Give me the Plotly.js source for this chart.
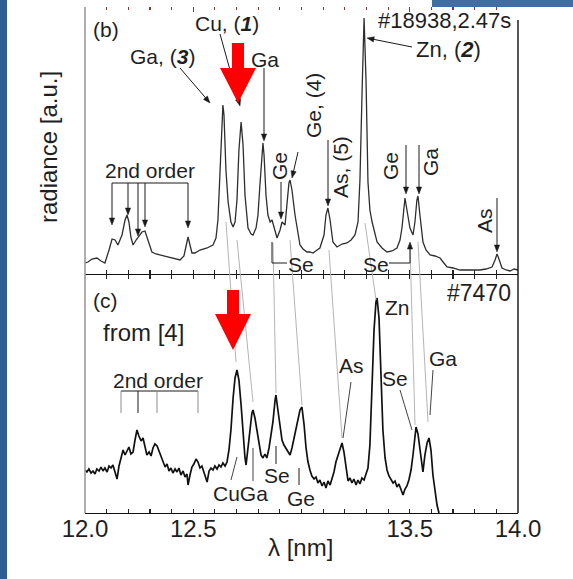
<!DOCTYPE html>
<html>
<head>
<meta charset="utf-8">
<script src="https://cdn.plot.ly/plotly-3.0.1.min.js"></script>
<style>
  html, body { margin: 0; padding: 0; background: #ffffff; }
  #chart { width: 573px; height: 579px; }
</style>
</head>
<body>
<div id="chart"></div>
<script>
// Panel (b): spectrum of discharge #18938 at 2.47 s
const lamB = [12.000,12.014,12.032,12.055,12.074,12.092,12.111,12.125,12.139,12.152,
  12.171,12.185,12.194,12.203,12.212,12.222,12.236,12.245,12.263,12.277,
  12.291,12.309,12.328,12.346,12.370,12.393,12.416,12.439,12.457,12.467,
  12.476,12.485,12.494,12.508,12.531,12.564,12.591,12.605,12.614,12.624,
  12.633,12.637,12.642,12.651,12.661,12.674,12.684,12.693,12.702,12.711,
  12.721,12.730,12.739,12.753,12.767,12.776,12.790,12.799,12.808,12.818,
  12.822,12.827,12.836,12.845,12.855,12.864,12.873,12.887,12.901,12.910,
  12.924,12.933,12.942,12.947,12.956,12.970,12.984,12.993,13.007,13.025,
  13.039,13.053,13.072,13.085,13.104,13.113,13.122,13.132,13.145,13.164,
  13.187,13.210,13.229,13.247,13.261,13.270,13.280,13.289,13.298,13.307,
  13.316,13.326,13.349,13.372,13.395,13.418,13.441,13.455,13.464,13.473,
  13.478,13.487,13.501,13.515,13.524,13.533,13.538,13.547,13.561,13.575,
  13.594,13.617,13.640,13.654,13.672,13.700,13.732,13.778,13.824,13.852,
  13.880,13.894,13.903,13.912,13.926,13.945,13.963,13.982,14.000];
const radB = [12,13,16,17,14,12,25,36,35,30,
  40,55,60,53,38,30,35,38,43,44,
  35,23,21,20,19,17,16,15,19,30,
  38,30,22,22,25,27,30,37,55,105,
  155,170,160,105,73,53,48,53,75,125,
  153,130,80,47,41,40,47,60,90,125,
  132,120,80,60,53,55,47,37,45,53,
  50,70,92,95,85,60,40,30,26,23,
  23,22,25,27,40,60,67,55,33,28,
  31,32,35,40,53,95,185,257,195,93,
  65,53,33,27,23,24,27,35,47,70,
  77,65,47,40,53,75,79,60,33,25,
  20,19,17,13,8,7,5,5,5,6,
  8,15,21,16,7,5,4,6,5];

// Panel (c): spectrum of discharge #7470 (from [4])
const lamC = [12.000,12.009,12.018,12.028,12.037,12.046,12.055,12.065,12.074,12.083,
  12.092,12.102,12.111,12.120,12.129,12.139,12.148,12.157,12.166,12.176,
  12.185,12.194,12.203,12.212,12.222,12.231,12.240,12.249,12.259,12.268,
  12.277,12.286,12.296,12.305,12.314,12.323,12.333,12.342,12.351,12.360,
  12.370,12.379,12.388,12.397,12.406,12.416,12.425,12.434,12.443,12.453,
  12.462,12.471,12.476,12.485,12.494,12.503,12.513,12.522,12.531,12.540,
  12.550,12.559,12.564,12.573,12.582,12.591,12.600,12.610,12.619,12.628,
  12.637,12.647,12.656,12.665,12.674,12.684,12.693,12.702,12.711,12.721,
  12.730,12.739,12.744,12.753,12.762,12.771,12.776,12.785,12.794,12.804,
  12.813,12.822,12.831,12.840,12.850,12.859,12.868,12.878,12.882,12.891,
  12.901,12.910,12.919,12.928,12.937,12.947,12.956,12.965,12.975,12.984,
  12.993,13.002,13.012,13.021,13.030,13.039,13.048,13.058,13.067,13.076,
  13.085,13.095,13.104,13.113,13.122,13.132,13.141,13.150,13.159,13.169,
  13.178,13.187,13.196,13.205,13.215,13.224,13.233,13.242,13.252,13.261,
  13.270,13.279,13.289,13.298,13.307,13.316,13.326,13.335,13.344,13.349,
  13.358,13.367,13.376,13.386,13.395,13.404,13.413,13.423,13.432,13.441,
  13.450,13.460,13.469,13.478,13.487,13.496,13.506,13.515,13.524,13.529,
  13.538,13.547,13.556,13.561,13.570,13.580,13.589,13.598,13.607,13.617,
  13.626,13.635];
const radC = [43,41,44,40,42,39,44,42,46,42,
  45,41,47,45,48,41,34,47,55,63,
  58,62,66,59,61,73,83,77,72,75,
  66,58,61,57,65,69,67,62,58,51,
  46,49,42,45,40,44,41,45,38,42,
  36,39,28,38,46,49,54,51,45,47,
  40,34,31,42,45,43,47,44,48,46,
  50,47,51,63,83,115,135,143,133,108,
  78,55,48,65,85,100,103,95,83,68,
  58,55,59,55,65,78,91,113,118,103,
  85,73,68,65,61,58,65,75,85,95,
  103,106,88,65,51,43,37,34,36,30,
  33,27,31,25,32,28,34,41,51,58,
  65,70,61,45,32,35,30,34,28,33,
  29,35,33,39,45,68,123,183,211,215,
  195,143,83,55,43,37,33,30,32,26,
  29,23,18,24,27,33,43,58,81,86,
  79,63,45,41,58,70,75,63,38,21,
  8,0];

// Axis ticks
const tickPos = [12.0, 12.5, 13.5, 14.0];
const tickText = ['12.0', '12.5', '13.5', '14.0'];

const FONT = 'Liberation Sans, Arial, Helvetica, sans-serif';
const INK = '#1f1f1f';

// Figure geometry (layout pixels) and helpers to paper coordinates
const PL = 85, PR = 518, PT = 7, PB = 513, MID = 275;
const fx = x => (x - PL) / (PR - PL);
const fy = y => (PB - y) / (PB - PT);
const splitC = (PB - MID) / (PB - PT);

const shapes = [];
const annotations = [];

function seg(pts, color, width, head) {
  let p = pts.map(q => q.slice());
  const n = p.length;
  let headPath = null;
  if (head) {
    const [x0, y0] = p[n - 2], [x1, y1] = p[n - 1];
    const d = Math.hypot(x1 - x0, y1 - y0), ux = (x1 - x0) / d, uy = (y1 - y0) / d;
    const len = 7, hw = 2.6;
    const bx = x1 - ux * len, by = y1 - uy * len;
    headPath = 'M' + fx(x1) + ',' + fy(y1) +
      ' L' + fx(bx - uy * hw) + ',' + fy(by + ux * hw) +
      ' L' + fx(bx + uy * hw) + ',' + fy(by - ux * hw) + ' Z';
    p[n - 1] = [bx + ux * 1, by + uy * 1];
  }
  const path = p.map((q, i) => (i ? 'L' : 'M') + fx(q[0]) + ',' + fy(q[1])).join(' ');
  shapes.push({type: 'path', xref: 'paper', yref: 'paper', path: path,
    line: {color: color, width: width}});
  if (headPath) {
    shapes.push({type: 'path', xref: 'paper', yref: 'paper', path: headPath,
      fillcolor: color, line: {color: color, width: 0.5}});
  }
}

function bigArrow(sl, sr, top, neck, hl, hr, tipX, tipY) {
  const pts = [[sl, top], [sr, top], [sr, neck], [hr, neck], [tipX, tipY], [hl, neck], [sl, neck]];
  const path = pts.map((q, i) => (i ? 'L' : 'M') + fx(q[0]) + ',' + fy(q[1])).join(' ') + ' Z';
  shapes.push({type: 'path', xref: 'paper', yref: 'paper', path: path,
    fillcolor: '#ff0000', line: {width: 0}});
}

function label(text, x, y, size, angle, xanchor) {
  annotations.push({text: text, xref: 'paper', yref: 'paper', x: fx(x), y: fy(y),
    xanchor: xanchor || 'center', yanchor: 'middle', showarrow: false,
    textangle: angle || 0, font: {family: FONT, size: size, color: INK}});
}

// Slide background pieces around the figure
shapes.push({type: 'rect', xref: 'paper', yref: 'paper', x0: fx(0), x1: fx(7), y0: fy(579), y1: fy(0),
  fillcolor: '#2f5c91', line: {width: 0}, layer: 'below'});
shapes.push({type: 'rect', xref: 'paper', yref: 'paper', x0: fx(432), x1: fx(573), y0: fy(7), y1: fy(0),
  fillcolor: '#3f6da4', line: {width: 0}, layer: 'below'});

// Frame sides
seg([[PL, PT], [PL, PB]], '#9a9a9a', 1.6, false);
seg([[PR, PT + 13], [PR, PB]], '#111111', 1.4, false);

// Grey guide lines linking the same lines in both spectra
const GREY = '#b4b4b4';
[
  [[226, 222], [236, 362]],
  [[237, 240], [253, 402]],
  [[273, 243], [276, 393]],
  [[290, 240], [302, 405]],
  [[329, 250], [342, 438]],
  [[365, 223], [376, 300]],
  [[410, 245], [415, 425]],
  [[418, 242], [428, 422]]
].forEach(p => seg(p, GREY, 1, false));

// Panel (b) line identifications
const K = '#1a1a1a';
seg([[220, 34], [240, 106]], K, 1, true);
seg([[180, 68], [210, 103]], K, 1, true);
seg([[264, 68], [264, 141]], K, 1, true);
seg([[412, 47], [367, 38]], K, 1, true);
seg([[281, 182], [281, 219]], K, 1, true);
seg([[298, 152], [292, 178]], K, 1, true);
seg([[328, 140], [328, 206]], K, 1, true);
seg([[406, 145], [406, 194]], K, 1, true);
seg([[419, 145], [419, 194]], K, 1, true);
seg([[497, 198], [497, 252]], K, 1, true);
// 2nd order group
seg([[112, 183], [188, 183]], K, 1, false);
seg([[112, 183], [112, 225]], K, 1, true);
seg([[128, 183], [128, 215]], K, 1, true);
seg([[138, 183], [138, 236]], K, 1, true);
seg([[145, 183], [145, 227]], K, 1, true);
seg([[188, 183], [188, 228]], K, 1, true);
// Se brackets
seg([[272, 242], [272, 263], [287, 263]], K, 1, false);
seg([[389, 263], [410, 263], [410, 242]], K, 1, true);

// Panel (c) line identifications
seg([[121, 391], [198, 391]], K, 1, false);
seg([[121, 391], [121, 413]], '#8c8c8c', 1, false);
seg([[138, 391], [138, 413]], K, 1, false);
seg([[157, 391], [157, 413]], '#8c8c8c', 1, false);
seg([[198, 391], [198, 413]], '#8c8c8c', 1, false);
seg([[351, 382], [343, 438]], '#444', 1, false);
seg([[400, 390], [412, 430]], '#444', 1, false);
seg([[433, 370], [430, 415]], '#444', 1, false);
seg([[237, 457], [231, 480]], '#444', 1, false);
seg([[253, 448], [253, 481]], '#444', 1, false);
seg([[276, 446], [276, 464]], K, 1, false);
seg([[299, 468], [299, 485]], K, 1, false);

// Red markers on the Cu line
bigArrow(232, 244, 43, 68, 220, 256, 238, 103);
bigArrow(227, 239, 290, 314, 215, 251, 233, 350);

// Labels, panel (b)
label('(b)', 106, 30, 21);
label('Cu, (<b><i>1</i></b>)', 227, 23, 21);
label('#18938,2.47s', 513, 21, 22, 0, 'right');
label('Ga, (<b><i>3</i></b>)', 162, 57, 21);
label('Ga', 265, 60, 21);
label('Zn, (<b><i>2</i></b>)', 448, 50, 22);
label('Ge', 280, 166, 21, -90);
label('Ge, (4)', 314, 106, 21, -90);
label('As, (5)', 341, 167, 21, -90);
label('Ge', 391, 166, 21, -90);
label('Ga', 430, 162, 21, -90);
label('As', 484, 221, 21, -90);
label('2nd order', 150, 170, 21);
label('Se', 301, 264, 21);
label('Se', 376, 265, 21);

// Labels, panel (c)
label('(c)', 105, 300, 21);
label('#7470', 513, 293, 23, 0, 'right');
label('from [4]', 143, 332, 24);
label('Zn', 397, 307, 21);
label('As', 351, 365, 21);
label('Se', 395, 378, 21);
label('Ga', 443, 358, 21);
label('2nd order', 158, 380, 21);
label('CuGa', 240, 493, 21);
label('Se', 277, 475, 21);
label('Ge', 301, 498, 21);

// Axis titles
label('λ [nm]', 300, 547, 24);
label('radiance [a.u.]', 49, 147, 24, -90);

const minorTicks = (color, len) => ({tickmode: 'linear', tick0: 12, dtick: 0.1, ticks: 'inside',
  ticklen: len, tickwidth: 1.1, tickcolor: color, showgrid: false});

const traces = [
  {x: lamC, y: radC, type: 'scatter', mode: 'lines', xaxis: 'x', yaxis: 'y',
    line: {color: '#111111', width: 1.7}, hoverinfo: 'skip'},
  {x: lamB, y: radB, type: 'scatter', mode: 'lines', xaxis: 'x2', yaxis: 'y2',
    line: {color: '#2e2e2e', width: 1.3}, hoverinfo: 'skip'},
  {x: [], y: [], type: 'scatter', mode: 'lines', xaxis: 'x3', yaxis: 'y2', hoverinfo: 'skip'}
];

const layout = {
  width: 573, height: 579,
  margin: {l: 85, r: 55, t: 7, b: 66},
  paper_bgcolor: '#ffffff', plot_bgcolor: 'rgba(0,0,0,0)',
  showlegend: false,
  font: {family: FONT, color: INK},
  xaxis: {domain: [0, 1], range: [12, 14], anchor: 'y',
    tickmode: 'array', tickvals: tickPos, ticktext: tickText,
    ticks: 'inside', ticklen: 4, tickwidth: 1.1, tickcolor: '#222',
    ticklabelstandoff: -6,
    minor: minorTicks('#222', 4),
    showline: true, linecolor: '#111', linewidth: 1.3, mirror: 'ticks',
    showgrid: false, zeroline: false,
    tickfont: {family: FONT, size: 24, color: INK}},
  xaxis2: {domain: [0, 1], range: [12, 14], anchor: 'y2',
    tickmode: 'array', tickvals: tickPos, showticklabels: false,
    ticks: 'inside', ticklen: 5, tickwidth: 1.1, tickcolor: '#222',
    minor: minorTicks('#222', 5),
    showline: false, showgrid: false, zeroline: false},
  xaxis3: {overlaying: 'x2', side: 'top', anchor: 'y2', range: [12, 14],
    tickmode: 'array', tickvals: tickPos, showticklabels: false,
    ticks: 'inside', ticklen: 5, tickwidth: 1.1, tickcolor: '#8e3434',
    minor: minorTicks('#8e3434', 3),
    showline: false, showgrid: false, zeroline: false},
  yaxis: {domain: [0, splitC], range: [0, 238], visible: false, fixedrange: true},
  yaxis2: {domain: [splitC, 1], range: [0, 268], visible: false, fixedrange: true},
  shapes: shapes,
  annotations: annotations
};

Plotly.newPlot('chart', traces, layout, {staticPlot: true, displayModeBar: false});
</script>
</body>
</html>
